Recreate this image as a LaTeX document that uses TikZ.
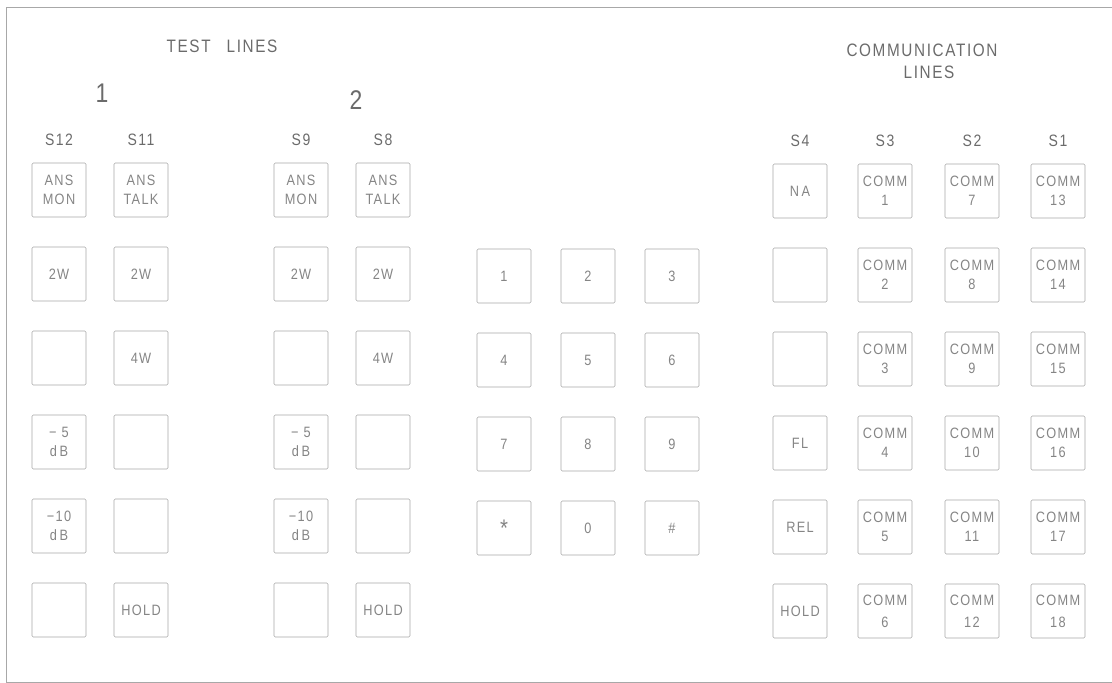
\documentclass[tikz,border=0pt]{standalone}
\usepackage{fontspec}
\newfontfamily\lettering{Liberation Sans}[LetterSpace=9, FakeStretch=0.85]
\usetikzlibrary{positioning}
\definecolor{inkgray}{gray}{0.42}
\definecolor{keygray}{gray}{0.52}
\definecolor{linegray}{gray}{0.66}

\begin{document}
\begin{tikzpicture}[
            x=1pt, y=-1pt,
            node distance=84pt,
            box/.style={draw=linegray, line width=0.6pt, rounded corners=1.2pt, minimum width=54pt, minimum height=54pt,
                inner sep=0pt, align=center, text=keygray, font=\lettering\fontsize{15}{19}\selectfont},
            keycap/.style={box},
            head/.style={text=inkgray, font=\lettering\fontsize{16.5}{18}\selectfont},
            title/.style={text=inkgray, align=center, font=\lettering\fontsize{18}{22}\selectfont},
            big/.style={text=inkgray, font=\lettering\fontsize{27}{30}\selectfont}
            ]
            \useasboundingbox (0,0) rectangle (1112,683);

            % rahmen
            \draw[linegray, line width=0.7pt] (1112,7) -- (6,7) -- (6,682) -- (1112,682);

            % titel
            \node[title] (ttest) at (222,46) {TEST\hspace{16pt}LINES};
            \node[big] (tone) at (102,93) {1};
            \node[big] (ttwo) at (356,100) {2};
            \node[title] (tcomm) at (922,61) {COMMUNICATION\\\hspace*{14pt}LINES};

            % spaltenkoepfe
            \node[head] (hS12) at (59,140) {S12};
            \node[head] (hS11) at (141,140) {S11};
            \node[head] (hS9) at (301,140) {S9};
            \node[head] (hS8) at (383,140) {S8};
            \node[head] (hS4) at (800,141) {S4};
            \node[head] (hS3) at (885,141) {S3};
            \node[head] (hS2) at (972,141) {S2};
            \node[head] (hS1) at (1058,141) {S1};

            % pruefleitung 1
            \node[box, node distance=50pt, below of=hS12] (s12a) {ANS\\MON};
            \node[box, below of=s12a] (s12b) {2W};
            \node[box, below of=s12b] (s12c) {};
            \node[box, below of=s12c] (s12d) {−\,\,5\\d\,B};
            \node[box, below of=s12d] (s12e) {−10\\d\,B};
            \node[box, below of=s12e] (s12f) {};

            \node[box, node distance=50pt, below of=hS11] (s11a) {ANS\\TALK};
            \node[box, below of=s11a] (s11b) {2W};
            \node[box, below of=s11b] (s11c) {4W};
            \node[box, below of=s11c] (s11d) {};
            \node[box, below of=s11d] (s11e) {};
            \node[box, below of=s11e] (s11f) {HOLD};

            % pruefleitung 2
            \node[box, node distance=50pt, below of=hS9] (s9a) {ANS\\MON};
            \node[box, below of=s9a] (s9b) {2W};
            \node[box, below of=s9b] (s9c) {};
            \node[box, below of=s9c] (s9d) {−\,\,5\\d\,B};
            \node[box, below of=s9d] (s9e) {−10\\d\,B};
            \node[box, below of=s9e] (s9f) {};

            \node[box, node distance=50pt, below of=hS8] (s8a) {ANS\\TALK};
            \node[box, below of=s8a] (s8b) {2W};
            \node[box, below of=s8b] (s8c) {4W};
            \node[box, below of=s8c] (s8d) {};
            \node[box, below of=s8d] (s8e) {};
            \node[box, below of=s8e] (s8f) {HOLD};

            % waehltastatur
            \node[keycap] (k1) at (504,276) {1};
            \node[keycap, right of=k1] (k2) {2};
            \node[keycap, right of=k2] (k3) {3};
            \node[keycap, below of=k1] (k4) {4};
            \node[keycap, right of=k4] (k5) {5};
            \node[keycap, right of=k5] (k6) {6};
            \node[keycap, below of=k4] (k7) {7};
            \node[keycap, right of=k7] (k8) {8};
            \node[keycap, right of=k8] (k9) {9};
            \node[keycap, below of=k7] (kstar) {\fontsize{24}{24}\selectfont\raisebox{-7pt}{*}};
            \node[keycap, right of=kstar] (k0) {0};
            \node[keycap, right of=k0] (khash) {\#};

            % kommunikationsleitungen
            \node[box, node distance=50pt, below of=hS4] (s4a) {N\,A};
            \node[box, below of=s4a] (s4b) {};
            \node[box, below of=s4b] (s4c) {};
            \node[box, below of=s4c] (s4d) {FL};
            \node[box, below of=s4d] (s4e) {REL};
            \node[box, below of=s4e] (s4f) {HOLD};

            \node[box, node distance=50pt, below of=hS3] (s3a) {COMM\\1};
            \node[box, below of=s3a] (s3b) {COMM\\2};
            \node[box, below of=s3b] (s3c) {COMM\\3};
            \node[box, below of=s3c] (s3d) {COMM\\4};
            \node[box, below of=s3d] (s3e) {COMM\\5};
            \node[box, below of=s3e] (s3f) {COMM\\[3pt]6};

            \node[box, node distance=50pt, below of=hS2] (s2a) {COMM\\7};
            \node[box, below of=s2a] (s2b) {COMM\\8};
            \node[box, below of=s2b] (s2c) {COMM\\9};
            \node[box, below of=s2c] (s2d) {COMM\\10};
            \node[box, below of=s2d] (s2e) {COMM\\11};
            \node[box, below of=s2e] (s2f) {COMM\\[3pt]12};

            \node[box, node distance=50pt, below of=hS1] (s1a) {COMM\\13};
            \node[box, below of=s1a] (s1b) {COMM\\14};
            \node[box, below of=s1b] (s1c) {COMM\\15};
            \node[box, below of=s1c] (s1d) {COMM\\16};
            \node[box, below of=s1d] (s1e) {COMM\\17};
            \node[box, below of=s1e] (s1f) {COMM\\[3pt]18};

        \end{tikzpicture}
\end{document}
